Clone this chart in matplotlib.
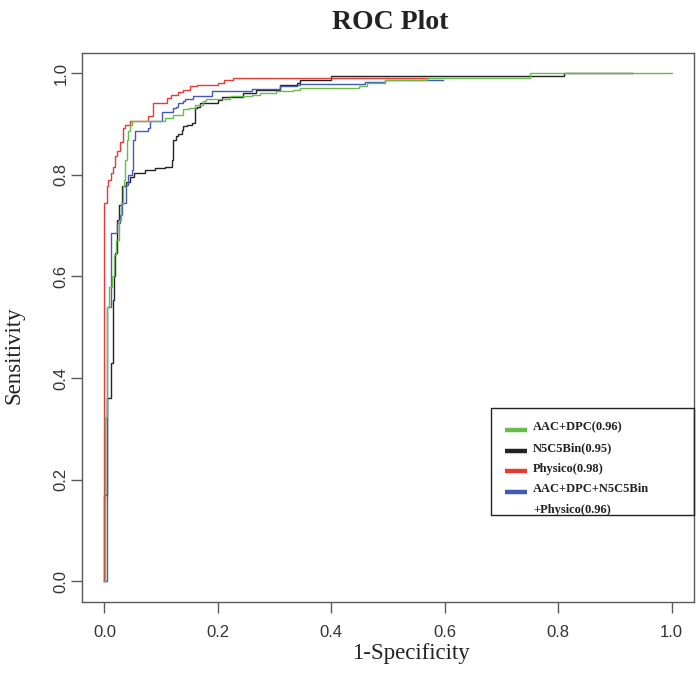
import matplotlib
matplotlib.use("Agg")
import matplotlib.pyplot as plt
from matplotlib.patches import Rectangle

# ---------------- data ----------------
aacdpc_fpr = [0, 0.001, 0.004, 0.008, 0.013, 0.017, 0.021, 0.025, 0.030, 0.033, 0.035,
              0.037, 0.039, 0.041, 0.046, 0.048, 0.107, 0.121, 0.139, 0.150, 0.160, 0.174,
              0.180, 0.221, 0.260, 0.274, 0.303, 0.333, 0.345, 0.448, 0.463, 0.495, 0.569,
              0.75, 1.0]
aacdpc_tpr = [0, 0.324, 0.54, 0.58, 0.60, 0.642, 0.672, 0.711, 0.745, 0.777, 0.79,
              0.829, 0.869, 0.885, 0.898, 0.905, 0.911, 0.918, 0.929, 0.932, 0.938, 0.944,
              0.949, 0.954, 0.957, 0.961, 0.964, 0.967, 0.970, 0.975, 0.980, 0.986, 0.990,
              1.0, 1.0]

n5c5_fpr = [0, 0, 0.005, 0.011, 0.015, 0.017, 0.019, 0.022, 0.025, 0.031, 0.038, 0.045,
            0.052, 0.072, 0.089, 0.107, 0.119, 0.121, 0.127, 0.130, 0.136, 0.139, 0.145,
            0.154, 0.160, 0.163, 0.169, 0.201, 0.207, 0.245, 0.268, 0.309, 0.339, 0.345,
            0.400, 0.81, 0.93]
n5c5_tpr = [0, 0.169, 0.36, 0.43, 0.553, 0.60, 0.646, 0.71, 0.741, 0.777, 0.785, 0.795,
            0.803, 0.81, 0.813, 0.816, 0.829, 0.869, 0.876, 0.881, 0.888, 0.895, 0.898,
            0.901, 0.931, 0.934, 0.941, 0.947, 0.952, 0.961, 0.967, 0.977, 0.98, 0.986,
            0.995, 1.0, 1.0]

physico_fpr = [0, 0, 0.004, 0.007, 0.011, 0.016, 0.019, 0.023, 0.028, 0.032, 0.036, 0.045,
               0.077, 0.086, 0.110, 0.118, 0.130, 0.139, 0.151, 0.163, 0.201, 0.210, 0.227,
               0.57]
physico_tpr = [0, 0.744, 0.777, 0.790, 0.803, 0.816, 0.836, 0.846, 0.865, 0.892, 0.898, 0.905,
               0.915, 0.941, 0.951, 0.957, 0.962, 0.967, 0.974, 0.977, 0.981, 0.987, 0.990,
               0.990]

combined_fpr = [0, 0.004, 0.011, 0.022, 0.027, 0.031, 0.038, 0.042, 0.048, 0.051, 0.054,
                0.077, 0.080, 0.101, 0.121, 0.127, 0.130, 0.139, 0.142, 0.157, 0.189, 0.26,
                0.309, 0.339, 0.345, 0.46, 0.495, 0.597]
combined_tpr = [0, 0.54, 0.685, 0.705, 0.72, 0.744, 0.78, 0.80, 0.81, 0.869, 0.885,
                0.892, 0.905, 0.924, 0.931, 0.934, 0.941, 0.944, 0.949, 0.955, 0.964, 0.968,
                0.974, 0.976, 0.9785, 0.983, 0.986, 0.986]

series_labels = ["AAC+DPC(0.96)", "N5C5Bin(0.95)", "Physico(0.98)",
                 "AAC+DPC+N5C5Bin\n+Physico(0.96)"]
series_colors = ["#66bd4c", "#222222", "#e63a37", "#4359b4"]

tick_values = [0.0, 0.2, 0.4, 0.6, 0.8, 1.0]
tick_labels = ["0.0", "0.2", "0.4", "0.6", "0.8", "1.0"]

title_text = "ROC Plot"
xlabel_text = "1-Specificity"
ylabel_text = "Sensitivity"

# ---------------- figure ----------------
fig = plt.figure(figsize=(7.0, 6.96), dpi=100)
ax = fig.add_axes([0.1167, 0.1355, 0.8752, 0.7888])

curves = [(aacdpc_fpr, aacdpc_tpr), (n5c5_fpr, n5c5_tpr),
          (physico_fpr, physico_tpr), (combined_fpr, combined_tpr)]
draw_order = [1, 2, 3, 0]
for i in draw_order:
    fpr, tpr = curves[i]
    ax.plot(fpr, tpr, drawstyle="steps-post", color=series_colors[i], lw=1.0,
            solid_joinstyle="miter")

ax.set_xlim(-0.04, 1.04)
ax.set_ylim(-0.04, 1.04)

for s in ax.spines.values():
    s.set_color("#5a5a5a")
    s.set_linewidth(1.0)

ax.set_xticks(tick_values)
ax.set_xticklabels(tick_labels, family="Liberation Sans", fontsize=12, color="#333333")
ax.set_yticks(tick_values)
ax.set_yticklabels(tick_labels, family="Liberation Sans", fontsize=12, color="#333333",
                   rotation=90, va="center")
ax.tick_params(axis="both", length=7.9, width=1.0, color="#5a5a5a")
ax.tick_params(axis="x", pad=9)
ax.tick_params(axis="y", pad=1.5)

# titles / labels
fig.text(0.557, 0.967, title_text, ha="center", va="center", family="Liberation Serif",
         fontweight="bold", fontsize=20, color="#222222")
fig.text(0.587, 0.0615, xlabel_text, ha="center", va="center", family="Liberation Serif",
         fontsize=16.5, color="#222222")
fig.text(0.02, 0.49, ylabel_text, ha="center", va="center", rotation=90,
         family="Liberation Serif", fontsize=16.5, color="#222222")

# legend box (drawn explicitly to match layout)
ax.add_patch(Rectangle((0.668, 0.1579), 0.332, 0.1944, transform=ax.transAxes,
                       fill=False, ec="#222222", lw=1.0, clip_on=False, zorder=5))
line_y = 0.3177
dy = 0.0377
for label, color in zip(series_labels, series_colors):
    parts = label.split("\n")
    ax.plot([0.6914, 0.7273], [line_y - 0.005, line_y - 0.005], transform=ax.transAxes,
            color=color, lw=3.2, solid_capstyle="butt", clip_on=False, zorder=6)
    for p in parts:
        ax.text(0.7371, line_y, p, transform=ax.transAxes, ha="left", va="center",
                family="Liberation Serif", fontweight="bold", fontsize=9,
                color="#222222", zorder=6)
        line_y -= dy

fig.savefig("out.png", dpi=100)
